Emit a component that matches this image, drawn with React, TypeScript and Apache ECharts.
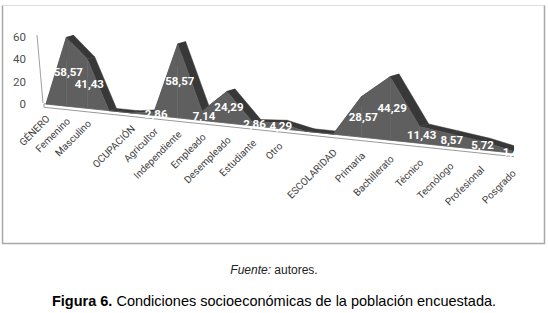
import React, { useEffect, useRef } from "react";
import * as echarts from "echarts";

const categories = [
  "GÉNERO", "Femenino", "Masculino", "", "OCUPACIÓN", "Agricultor", "Independiente",
  "Empleado", "Desempleado", "Estudiante", "Otro", "", "ESCOLARIDAD", "Primaria",
  "Bachillerato", "Técnico", "Tecnólogo", "Profesional", "Posgrado",
];
const values = [
  0, 58.57, 41.43, 0, 0, 2.86, 58.57, 7.14, 24.29, 2.86, 4.29, 0, 0, 28.57, 44.29,
  11.43, 8.57, 5.72, 1.43,
];
const yTicks = [0, 20, 40, 60];
const sourceLabel = "Fuente:";
const sourceText = " autores.";
const figureLabel = "Figura 6.";
const figureText = " Condiciones socioeconómicas de la población encuestada.";

const FRONT = "#5f5f5f";
const TOP = "#383838";
const SLOPE = 0.105;

function fmt(v: number) {
  return v.toFixed(2).replace(".", ",");
}

// perspective projection of a (category index, value) pair, via the chart's own scales
function proj(api: any, params: any, i: number, v: number) {
  const cs = params.coordSys;
  const p0 = api.coord([i, 0]);
  const pv = api.coord([i, v]);
  const t = (p0[0] - cs.x) / cs.width;
  const X = cs.x + 6 + 360 * t + 106 * t * t;
  const base = p0[1] + (X - cs.x - 6) * SLOPE;
  const f = 1.05 + (X - 66) * 0.00072;
  return { X, Y: base - (p0[1] - pv[1]) * f, base, f };
}

export default function App() {
  const ref = useRef<HTMLDivElement>(null);
  useEffect(() => {
    const chart = echarts.init(ref.current!, null, { renderer: "svg" });
    const data = values.map((v, i) => [i, v]);
    chart.setOption({
      animation: false,
      backgroundColor: "#fff",
      grid: { left: 40, right: 34, top: 37 - 10 * (67 / 60), bottom: 313 - 171 },
      xAxis: { type: "value", min: 0, max: categories.length - 1, show: false },
      yAxis: {
        type: "value",
        min: -60,
        max: 70,
        interval: 20,
        axisLine: { show: false },
        axisTick: { show: false },
        splitLine: { show: false },
        axisLabel: {
          margin: 14,
          color: "#505050",
          fontFamily: "Roboto",
          fontSize: 11.5,
          formatter: (v: number) => (yTicks.indexOf(v) >= 0 ? String(v) : ""),
        },
      },
      graphic: [
        {
          type: "line",
          shape: { x1: 2.5, y1: 5.5, x2: 544.5, y2: 5.5 },
          style: { stroke: "#dedede", lineWidth: 1 },
        },
        {
          type: "polyline",
          shape: { points: [[2.5, 5.5], [2.5, 243.5], [544.5, 243.5], [544.5, 5.5]] },
          style: { stroke: "#a8a8a8", lineWidth: 1.5, fill: "none" },
        },
        {
          type: "text",
          x: 274,
          y: 270,
          style: {
            text: "{i|" + sourceLabel + "}{n|" + sourceText + "}",
            align: "center",
            verticalAlign: "middle",
            rich: {
              i: { fontStyle: "italic", fontFamily: "Liberation Sans", fontSize: 12, fill: "#222" },
              n: { fontFamily: "Liberation Sans", fontSize: 12, fill: "#222" },
            },
          },
        },
        {
          type: "text",
          x: 274,
          y: 301,
          style: {
            text: "{b|" + figureLabel + "}{n|" + figureText + "}",
            align: "center",
            verticalAlign: "middle",
            rich: {
              b: { fontWeight: "bold", fontFamily: "Liberation Sans", fontSize: 14.5, fill: "#000" },
              n: { fontFamily: "Liberation Sans", fontSize: 14.5, fill: "#000" },
            },
          },
        },
      ],
      series: [
        {
          type: "custom",
          coordinateSystem: "cartesian2d",
          clip: true,
          silent: true,
          data,
          renderItem: (params: any, api: any) => {
            const idx = params.dataIndexInside;
            const n = params.dataInsideLength;
            const i = api.value(0);
            const v = api.value(1);
            const a = proj(api, params, i, v);
            const children: any[] = [];
            if (idx === 0) {
              const s = proj(api, params, i - 0.1, 0);
              const e = proj(api, params, api.value(0, n - 1) + 0.1, 0);
              children.push({
                type: "polygon",
                z2: 0,
                shape: {
                  points: [
                    [s.X, s.base],
                    [e.X, e.base],
                    [e.X, e.base + 3.5],
                    [s.X, s.base + 3.5],
                  ],
                },
                style: { fill: "#ffffff", stroke: "#9a9a9a", lineWidth: 1 },
              });
            }
            const dxa = 7 * a.f;
            const dya = -2 * a.f;
            if (idx < n - 1) {
              const j = api.value(0, idx + 1);
              const w = api.value(1, idx + 1);
              const b = proj(api, params, j, w);
              const dxb = 7 * b.f;
              const dyb = -2 * b.f;
              children.push({
                type: "polygon",
                z2: 1,
                shape: {
                  points: [
                    [a.X, a.Y],
                    [b.X, b.Y],
                    [b.X + dxb, b.Y + dyb],
                    [a.X + dxa, a.Y + dya],
                  ],
                },
                style: { fill: TOP, stroke: TOP, lineWidth: 0.5 },
              });
              children.push({
                type: "polygon",
                z2: 2,
                shape: {
                  points: [
                    [a.X, a.base],
                    [a.X, a.Y],
                    [b.X, b.Y],
                    [b.X, b.base],
                  ],
                },
                style: { fill: FRONT, stroke: FRONT, lineWidth: 0.5 },
              });
            } else {
              children.push({
                type: "polygon",
                z2: 1,
                shape: {
                  points: [
                    [a.X, a.base],
                    [a.X, a.Y],
                    [a.X + dxa, a.Y + dya],
                    [a.X + dxa, a.base + dya],
                  ],
                },
                style: { fill: TOP, stroke: TOP, lineWidth: 0.5 },
              });
            }
            if (v > 0) {
              children.push({
                type: "text",
                z2: 10,
                x: a.X + 2,
                y: (a.Y + a.base) / 2,
                style: {
                  text: fmt(v),
                  align: "center",
                  verticalAlign: "middle",
                  fill: "#ffffff",
                  fontFamily: "Roboto",
                  fontWeight: "bold",
                  fontSize: 11.5,
                },
              });
            }
            return { type: "group", children };
          },
        },
        {
          type: "custom",
          coordinateSystem: "cartesian2d",
          clip: false,
          silent: true,
          data,
          renderItem: (params: any, api: any) => {
            const idx = params.dataIndexInside;
            const i = api.value(0);
            const a = proj(api, params, i, 0);
            const children: any[] = [];
            if (idx === 0) {
              const cs = params.coordSys;
              const top = api.coord([0, 60]);
              const bot = api.coord([0, 0]);
              children.push({
                type: "line",
                shape: { x1: cs.x - 3, y1: top[1] - 2, x2: cs.x + 3, y2: bot[1] - 1 },
                style: { stroke: "#a0a0a0", lineWidth: 1 },
              });
            }
            const label = categories[i];
            if (label) {
              children.push({
                type: "text",
                x: a.X + 2,
                y: a.base + 13 + (a.X - 46) * 0.012,
                rotation: Math.PI / 4,
                style: {
                  text: label,
                  align: "right",
                  verticalAlign: "middle",
                  fill: "#404040",
                  fontFamily: "Roboto",
                  fontSize: 10,
                },
              });
            }
            return { type: "group", children };
          },
        },
      ],
    });
    return () => chart.dispose();
  }, []);
  return (
    <div style={{ position: "fixed", left: 0, top: 0, width: 548, height: 313, background: "#fff" }}>
      <div ref={ref} style={{ width: 548, height: 313 }} />
    </div>
  );
}
